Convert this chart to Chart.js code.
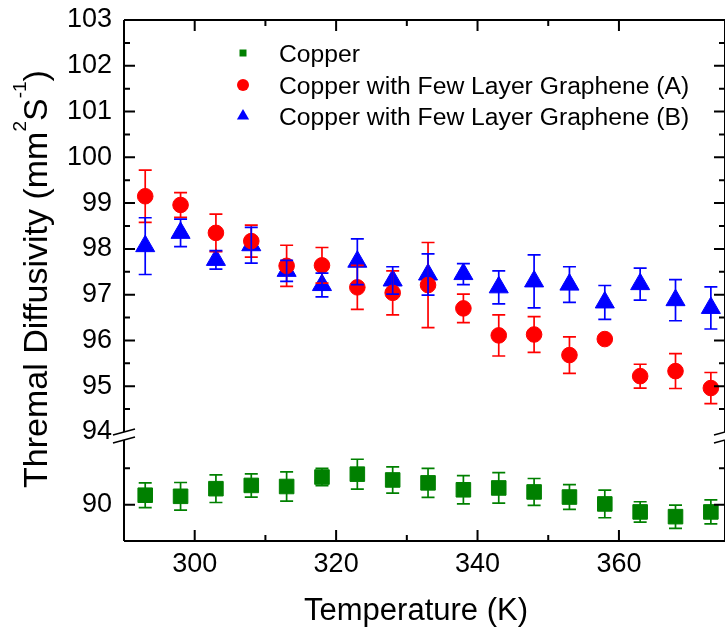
<!DOCTYPE html>
<html>
<head>
<meta charset="utf-8">
<script src="https://cdn.jsdelivr.net/npm/chart.js@4.4.1/dist/chart.umd.min.js"></script>
<style>
  html, body { margin: 0; padding: 0; background: #fff; }
  #diffusivity { display: block; }
</style>
</head>
<body>
<canvas id="diffusivity" width="725" height="629"></canvas>
<script>
// measurement temperatures (K)
var temperatures = [293, 298, 303, 308, 313, 318, 323, 328, 333, 338, 343, 348, 353, 358, 363, 368, 373];

// thermal diffusivity (mm2/s) and error for each sample
var copper = [90.26, 90.23, 90.44, 90.53, 90.50, 90.76, 90.84, 90.68, 90.60, 90.41, 90.46, 90.35, 90.21, 90.02, 89.80, 89.67, 89.80];
var copperErr = [0.34, 0.38, 0.38, 0.32, 0.40, 0.24, 0.41, 0.36, 0.40, 0.39, 0.42, 0.37, 0.34, 0.38, 0.28, 0.32, 0.33];

var grapheneA = [99.15, 98.96, 98.35, 98.17, 97.63, 97.64, 97.16, 97.04, 97.21, 96.70, 96.11, 96.13, 95.68, 96.03, 95.22, 95.33, 94.96];
var grapheneAErr = [0.57, 0.27, 0.41, 0.35, 0.45, 0.39, 0.48, 0.48, 0.93, 0.31, 0.45, 0.39, 0.40, 0.05, 0.26, 0.38, 0.34];

var grapheneB = [98.06, 98.35, 97.76, 98.08, 97.52, 97.21, 97.72, 97.31, 97.44, 97.45, 97.16, 97.29, 97.22, 96.83, 97.23, 96.88, 96.71];
var grapheneBErr = [0.62, 0.30, 0.20, 0.39, 0.23, 0.26, 0.50, 0.30, 0.45, 0.23, 0.36, 0.58, 0.39, 0.37, 0.35, 0.45, 0.46];

var seriesNames = ['Copper', 'Copper with Few Layer Graphene (A)', 'Copper with Few Layer Graphene (B)'];

// tick labels
var xTickLabels = [300, 320, 340, 360];
var upperTickLabels = [94, 95, 96, 97, 98, 99, 100, 101, 102, 103];
var lowerTickLabels = [90];

var FONT = "'Liberation Sans', Arial, sans-serif";

function points(values, errors) {
  return temperatures.map(function(t, i) {
    return { x: t, y: values[i], err: errors[i] };
  });
}

// keep the plot box fixed: no extra room for labels hanging past the ends
function fixBox(size) {
  return function(s) {
    if (s.isHorizontal()) s.height = size; else s.width = size;
    s.paddingLeft = 0; s.paddingRight = 0;
    s.paddingTop = 0; s.paddingBottom = 0;
  };
}

// error bars, frame with break marks, inward ticks, legend and axis titles
var decorations = {
  id: 'decorations',
  afterDatasetsDraw: function(chart) {
    var ctx = chart.ctx;
    var area = chart.chartArea;
    var xs = chart.scales.x;

    ctx.save();

    // error bars
    chart.data.datasets.forEach(function(ds) {
      var ys = chart.scales[ds.yAxisID];
      ctx.strokeStyle = ds.borderColor;
      ctx.lineWidth = 1.7;
      ds.data.forEach(function(p) {
        var px = xs.getPixelForValue(p.x);
        var top = ys.getPixelForValue(p.y + p.err);
        var bot = ys.getPixelForValue(p.y - p.err);
        ctx.beginPath();
        ctx.moveTo(px, top); ctx.lineTo(px, bot);
        ctx.moveTo(px - 6.5, top); ctx.lineTo(px + 6.5, top);
        ctx.moveTo(px - 6.5, bot); ctx.lineTo(px + 6.5, bot);
        ctx.stroke();
      });
    });

    // frame
    var yBreak = chart.scales.yHigh.bottom + 4;
    var gap = 4;
    ctx.strokeStyle = '#000';
    ctx.lineWidth = 2;
    ctx.beginPath();
    ctx.moveTo(area.left, area.top); ctx.lineTo(area.right, area.top);
    ctx.moveTo(area.left, area.bottom); ctx.lineTo(area.right, area.bottom);
    [area.left, area.right].forEach(function(x) {
      ctx.moveTo(x, area.top); ctx.lineTo(x, yBreak - gap);
      ctx.moveTo(x, yBreak + gap); ctx.lineTo(x, area.bottom);
    });
    ctx.stroke();

    // break marks
    ctx.lineWidth = 1.6;
    ctx.beginPath();
    [area.left, area.right].forEach(function(x) {
      [-gap, gap].forEach(function(d) {
        ctx.moveTo(x - 11, yBreak + d + 3);
        ctx.lineTo(x + 11, yBreak + d - 3);
      });
    });
    ctx.stroke();

    // inward ticks
    ctx.lineWidth = 2;
    ctx.beginPath();
    xs.ticks.forEach(function(t) {
      if (t.value <= xs.min || t.value >= xs.max) return;
      var px = xs.getPixelForValue(t.value);
      var len = t.label !== '' ? 11 : 6;
      ctx.moveTo(px, area.bottom); ctx.lineTo(px, area.bottom - len);
      ctx.moveTo(px, area.top); ctx.lineTo(px, area.top + len);
    });
    ['yHigh', 'yLow'].forEach(function(id) {
      var s = chart.scales[id];
      s.ticks.forEach(function(t) {
        if (t.value <= s.min || t.value >= s.max) return;
        var py = s.getPixelForValue(t.value);
        var len = t.label !== '' ? 11 : 6;
        ctx.moveTo(area.left, py); ctx.lineTo(area.left + len, py);
        ctx.moveTo(area.right, py); ctx.lineTo(area.right - len, py);
      });
    });
    ctx.stroke();

    // legend
    var rowY = [53, 85, 116];
    var baseY = [62, 93.6, 124.6];
    chart.data.datasets.forEach(function(ds, i) {
      var cx = 243, cy = rowY[i];
      ctx.fillStyle = ds.backgroundColor;
      ctx.beginPath();
      if (ds.pointStyle === 'rect') {
        ctx.rect(cx - 3.5, cy - 3.5, 7, 7);
      } else if (ds.pointStyle === 'circle') {
        ctx.arc(cx, cy, 6, 0, Math.PI * 2);
      } else {
        ctx.moveTo(cx, cy - 7);
        ctx.lineTo(cx + 6.1, cy + 3.5);
        ctx.lineTo(cx - 6.1, cy + 3.5);
        ctx.closePath();
      }
      ctx.fill();
      ctx.fillStyle = '#000';
      ctx.font = '24.7px ' + FONT;
      ctx.textAlign = 'left';
      ctx.textBaseline = 'alphabetic';
      ctx.fillText(ds.label, 279, baseY[i]);
    });

    // x axis title
    ctx.font = '31px ' + FONT;
    ctx.textAlign = 'center';
    ctx.fillText('Temperature (K)', 416, 620);

    // y axis title with superscripts
    ctx.translate(47, 488);
    ctx.rotate(-Math.PI / 2);
    ctx.textAlign = 'left';
    var parts = [
      ['Thremal Diffusivity (mm', 34, 0],
      ['2', 19, -21],
      ['S', 34, 0],
      ['-1', 19, -21],
      [')', 34, 0]
    ];
    var cursor = 0;
    parts.forEach(function(p) {
      ctx.font = p[1] + 'px ' + FONT;
      ctx.fillText(p[0], cursor, p[2]);
      cursor += ctx.measureText(p[0]).width;
    });

    ctx.restore();
  }
};

var tickFont = { family: FONT, size: 27 };

var ctx = document.getElementById('diffusivity');
var chart = new Chart(ctx, {
  type: 'scatter',
  data: {
    datasets: [
      {
        label: seriesNames[0],
        data: points(copper, copperErr),
        yAxisID: 'yLow',
        pointStyle: 'rect',
        pointRadius: 10.3,
        backgroundColor: '#008000',
        borderColor: '#008000',
        pointBorderWidth: 1
      },
      {
        label: seriesNames[1],
        data: points(grapheneA, grapheneAErr),
        yAxisID: 'yHigh',
        pointStyle: 'circle',
        pointRadius: 7.8,
        backgroundColor: '#ff0000',
        borderColor: '#ff0000',
        pointBorderWidth: 1
      },
      {
        label: seriesNames[2],
        data: points(grapheneB, grapheneBErr),
        yAxisID: 'yHigh',
        pointStyle: 'triangle',
        pointRadius: 11,
        backgroundColor: '#0000ff',
        borderColor: '#0000ff',
        pointBorderWidth: 1
      }
    ]
  },
  options: {
    responsive: false,
    animation: false,
    devicePixelRatio: 1,
    layout: { autoPadding: false, padding: { top: 20, right: -2, left: 0, bottom: 0 } },
    plugins: {
      legend: { display: false },
      tooltip: { enabled: false }
    },
    scales: {
      x: {
        type: 'linear',
        min: 290,
        max: 375,
        grid: { display: false, drawTicks: false },
        border: { display: false },
        ticks: {
          stepSize: 10,
          autoSkip: false,
          maxRotation: 0,
          padding: 7,
          color: '#000',
          font: tickFont,
          callback: function(v) { return xTickLabels.indexOf(v) >= 0 ? String(v) : ''; }
        },
        afterFit: fixBox(88)
      },
      yLow: {
        type: 'linear',
        position: 'left',
        stack: 'diffusivity',
        stackWeight: 109,
        min: 89,
        max: 92,
        grid: { display: false, drawTicks: false },
        border: { display: false },
        ticks: {
          stepSize: 1,
          autoSkip: false,
          padding: 12,
          color: '#000',
          font: tickFont,
          callback: function(v) { return lowerTickLabels.indexOf(v) >= 0 ? String(v) : ''; }
        },
        afterFit: fixBox(124)
      },
      yHigh: {
        type: 'linear',
        position: 'left',
        stack: 'diffusivity',
        stackWeight: 412,
        min: 94,
        max: 103,
        grid: { display: false, drawTicks: false },
        border: { display: false },
        ticks: {
          stepSize: 0.5,
          autoSkip: false,
          padding: 12,
          color: '#000',
          font: tickFont,
          callback: function(v) { return upperTickLabels.indexOf(v) >= 0 ? String(v) : ''; }
        },
        afterFit: fixBox(124)
      }
    }
  },
  plugins: [decorations]
});
</script>
</body>
</html>
